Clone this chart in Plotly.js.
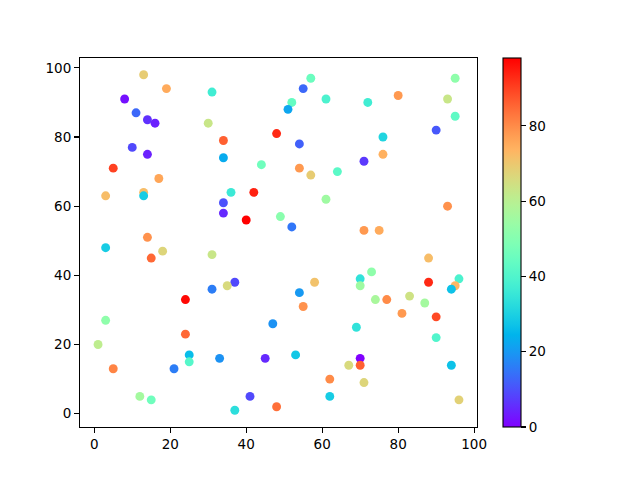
<!DOCTYPE html>
<html>
<head>
<meta charset="utf-8">
<script src="https://cdn.plot.ly/plotly-3.0.1.min.js"></script>
<style>body{margin:0;padding:0;background:#fff}#chart{width:640px;height:480px}</style>
</head>
<body>
<div id="chart"></div>
<script>
const xValues = [13,19,31,8,11,14,16,30,34,48,10,14,5,34,44,17,3,13,13,36,42,34,34,40,49,14,3,
  57,55,52,51,61,72,80,95,93,95,90,76,54,76,71,54,57,64,61,52,93,71,75,
  18,15,31,37,35,31,24,3,1,24,47,25,25,33,45,21,5,12,15,41,37,48,
  88,73,70,70,58,88,96,95,94,54,55,74,77,83,87,81,90,69,90,53,70,70,67,94,62,71,62,96];
const yValues = [98,94,93,91,87,85,84,84,79,81,77,75,71,74,72,68,63,64,63,64,64,61,58,56,57,51,48,
  97,94,90,88,91,90,92,97,91,86,82,80,78,75,73,71,69,70,62,54,60,53,53,
  47,45,46,38,37,36,33,27,20,23,26,17,15,16,16,13,13,5,4,5,1,2,
  45,41,39,37,38,38,39,37,36,35,31,33,33,34,32,29,28,25,22,17,16,14,14,14,10,9,5,4];
const colorValues = [69,75,37,2,13,6,4,63,86,93,9,4,90,23,46,76,72,72,29,36,94,10,5,98,51,79,29,
  45,13,44,22,39,37,78,52,63,43,11,31,12,74,7,78,69,42,55,15,79,78,75,
  67,85,63,9,66,16,97,52,61,85,19,26,41,19,5,16,81,56,46,9,33,84,
  72,52,34,55,71,93,39,73,27,20,79,57,80,64,56,78,89,34,40,28,0,86,66,27,80,67,29,68];
const colorTicks = [0,20,40,60,80];

// matplotlib "rainbow" colormap
function rainbow(t){
  const r = Math.min(1, Math.abs(2*t-0.5));
  const g = Math.sin(Math.PI*t);
  const b = Math.cos(Math.PI*t/2);
  return 'rgb(' + Math.round(r*255) + ',' + Math.round(g*255) + ',' + Math.round(Math.max(0,b)*255) + ')';
}
const scale = [];
for (let i = 0; i <= 40; i++) { const t = i/40; scale.push([t, rainbow(t)]); }

const font = {family: 'DejaVu Sans', size: 13.5, color: '#000'};
const trace = {
  type: 'scatter', mode: 'markers',
  x: xValues, y: yValues,
  marker: {
    size: 8.9, color: colorValues, colorscale: scale, cmin: 0, cmax: 98,
    line: {width: 0},
    showscale: true,
    colorbar: {
      x: 1.0646, xanchor: 'left', xpad: 0, ypad: 0,
      y: 0.5, yanchor: 'middle', len: 1, lenmode: 'fraction',
      thickness: 18.4, thicknessmode: 'pixels',
      outlinewidth: 1.1, outlinecolor: '#000',
      tickmode: 'array', tickvals: colorTicks, ticktext: colorTicks.map(String),
      ticks: 'outside', ticklen: 4.9, tickwidth: 1.1, tickcolor: '#000',
      tickfont: font
    }
  },
  hoverinfo: 'none'
};
const axisCommon = {
  showgrid: false, zeroline: false, showline: true, mirror: true,
  linecolor: '#000', linewidth: 1.1,
  ticks: 'outside', ticklen: 4.9, tickwidth: 1.1, tickcolor: '#000',
  tickfont: font, tickmode: 'array', tickvals: [0,20,40,60,80,100]
};
const layout = {
  width: 640, height: 480,
  margin: {l: 80.3, r: 163.3, t: 57.6, b: 52.6, pad: 0},
  paper_bgcolor: '#fff', plot_bgcolor: '#fff',
  showlegend: false,
  xaxis: Object.assign({}, axisCommon, {range: [-3.75, 100.75]}),
  yaxis: Object.assign({}, axisCommon, {range: [-3.85, 102.85]}),
  font: font
};
Plotly.newPlot('chart', [trace], layout, {displayModeBar: false, staticPlot: true});
</script>
</body>
</html>
